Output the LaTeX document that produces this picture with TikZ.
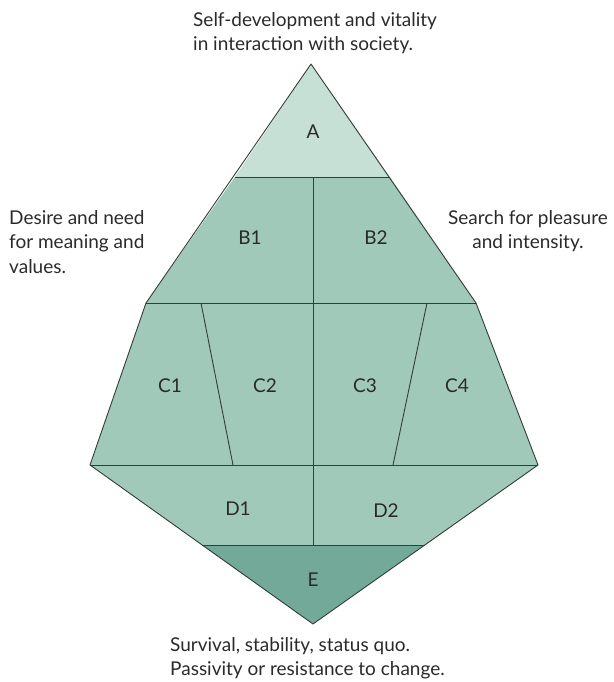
\documentclass[tikz,border=0pt]{standalone}
\usepackage{fontspec}
\setmainfont{Lato}
\definecolor{cA}{HTML}{C6E0D6}
\definecolor{cB}{HTML}{A0C9BA}
\definecolor{cE}{HTML}{72A998}
\definecolor{edge}{HTML}{333D39}
\definecolor{txt}{HTML}{2A2A2A}
\begin{document}
\begin{tikzpicture}[x=1pt,y=-1pt,
  region/.style={draw=edge,line width=0.9pt,line join=round},
  lbl/.style={font=\fontsize{19}{22}\selectfont,text=txt},
  side/.style={font=\fontsize{19}{24.5}\selectfont,text=txt,inner sep=0pt}]
\useasboundingbox (0,0) rectangle (613,682);
% vertices
\coordinate (top) at (311,64);
\coordinate (aL) at (235,177);
\coordinate (aM) at (313,177);
\coordinate (aR) at (390,177);
\coordinate (bL) at (146,303);
\coordinate (b1) at (201,303);
\coordinate (bM) at (313,303);
\coordinate (b3) at (427,303);
\coordinate (bR) at (476,303);
\coordinate (cL) at (90,465);
\coordinate (c1) at (233,465);
\coordinate (cM) at (313,465);
\coordinate (c3) at (393,465);
\coordinate (cR) at (538,465);
\coordinate (dL) at (202,545);
\coordinate (dM) at (313,545);
\coordinate (dR) at (425,545);
\coordinate (bot) at (313,624);
% regions
\fill[cA] (top) -- (aR) -- (aL) -- cycle;
\fill[cB] (aL) -- (aR) -- (bR) -- (cR) -- (dR) -- (dL) -- (cL) -- (bL) -- cycle;
\fill[cE] (dL) -- (dR) -- (bot) -- cycle;
\draw[region] (top) -- (bR) -- (cR) -- (bot) -- (cL) -- (bL) -- cycle;
\draw[region] (aL) -- (aR);
\draw[region] (bL) -- (bR);
\draw[region] (cL) -- (cR);
\draw[region] (dL) -- (dR);
\draw[region] (aM) -- (dM);
\draw[region] (b1) -- (c1);
\draw[region] (b3) -- (c3);
% labels
\node[lbl] (A) at (313,132) {A};
\node[lbl] (B1) at (250,238) {B1};
\node[lbl] (B2) at (376,238) {B2};
\node[lbl] (C1) at (170,386) {C1};
\node[lbl] (C2) at (265,386) {C2};
\node[lbl] (C3) at (365,386) {C3};
\node[lbl] (C4) at (457,386) {C4};
\node[lbl] (D1) at (238,509) {D1};
\node[lbl] (D2) at (386,511) {D2};
\node[lbl] (E) at (313,580) {E};
% side texts
\node[side,anchor=north west,align=left] (toptext) at (193,12) {Self-development and vitality\\in interaction with society.};
\node[side,anchor=north west,align=left] (lefttext) at (9,210) {Desire and need\\for meaning and\\values.};
\node[side,anchor=north,align=center] (righttext) at (528,210) {Search for pleasure\\and intensity.};
\node[side,anchor=north west,align=left] (bottext) at (170,637) {Survival, stability, status quo.\\Passivity or resistance to change.};
\end{tikzpicture}
\end{document}
